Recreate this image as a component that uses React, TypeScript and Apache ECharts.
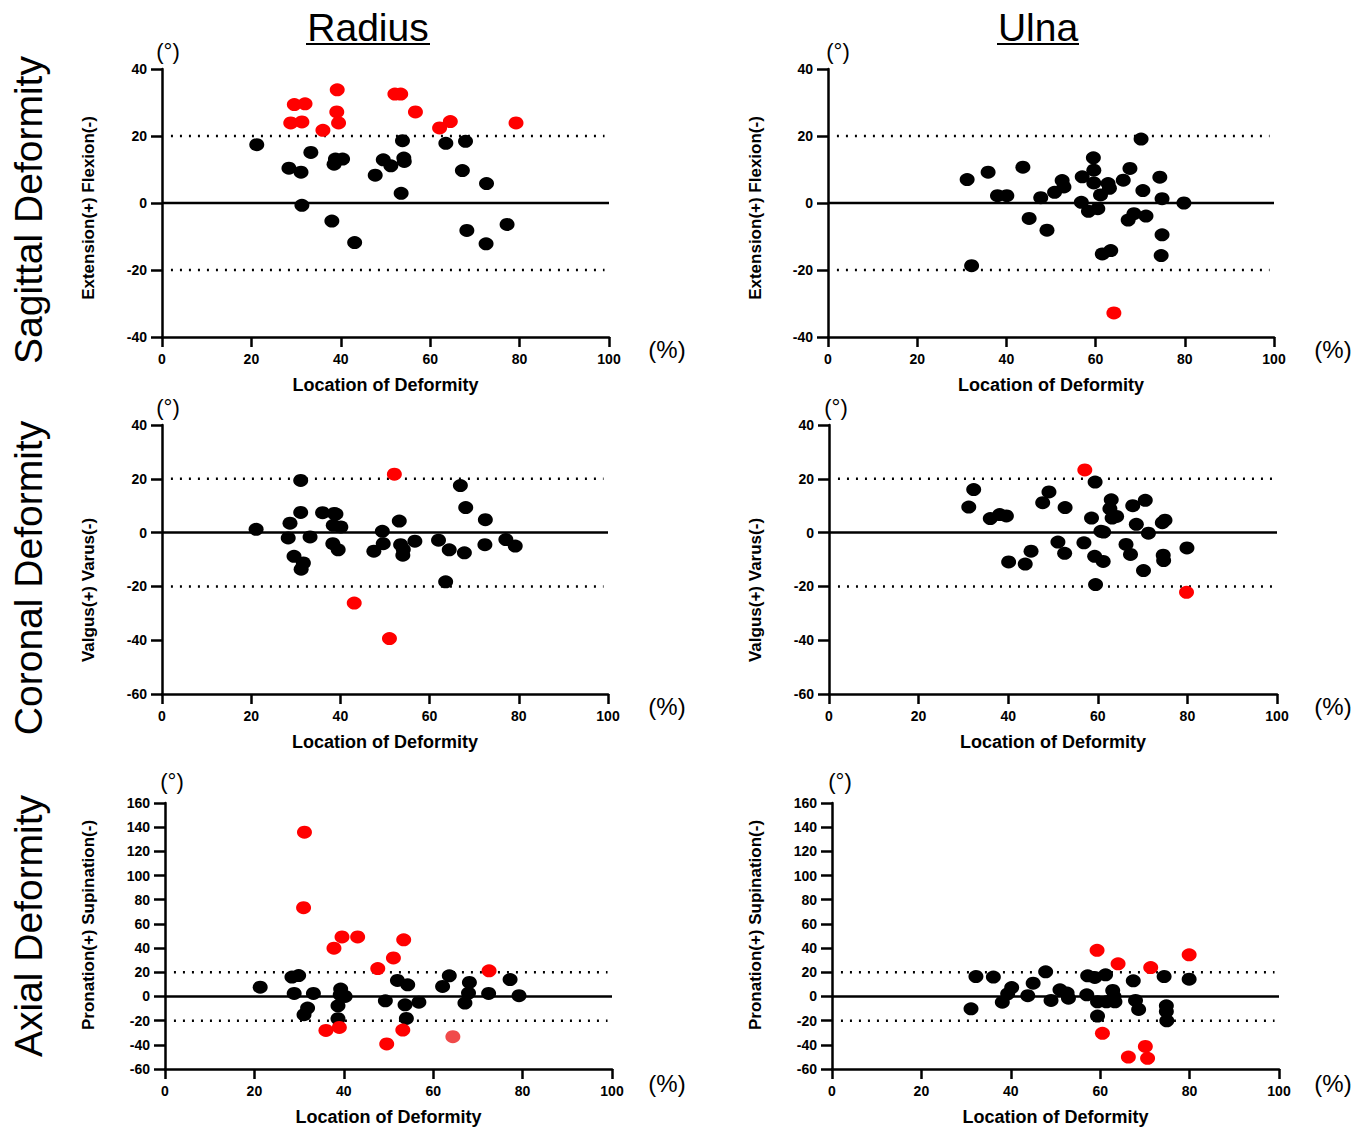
import React, { useEffect, useRef } from "react";
import * as echarts from "echarts";

// ---------- data ----------
const xTicks = [0, 20, 40, 60, 80, 100];
const refLimits = [20, -20];

const radiusSagittalBlack = [[21.2,17.4],[28.4,10.4],[31.1,9.2],[33.3,15.1],[31.3,-0.7],[38.0,-5.4],[43.1,-11.8],[38.5,11.6],[38.8,13.1],[40.4,13.1],[47.7,8.3],[49.5,12.9],[51.2,11.1],[53.8,18.6],[54.1,13.4],[54.2,12.4],[53.5,2.9],[63.5,17.8],[67.9,18.4],[67.2,9.7],[72.6,5.8],[68.2,-8.2],[72.5,-12.2],[77.2,-6.4]];
const radiusSagittalRed = [[29.6,29.4],[32.0,29.6],[28.8,23.9],[31.3,24.2],[39.2,33.8],[39.1,27.2],[39.5,23.9],[36.0,21.7],[52.1,32.5],[53.4,32.5],[56.7,27.2],[62.1,22.4],[64.5,24.3],[79.2,23.9]];

const ulnaSagittalBlack = [[31.2,7.0],[35.9,9.2],[38.0,2.2],[40.1,2.2],[43.7,10.7],[45.1,-4.6],[47.7,1.6],[49.1,-8.1],[50.8,3.2],[52.5,6.7],[52.9,4.8],[57.0,7.8],[56.8,0.2],[59.5,13.5],[59.6,9.8],[59.6,6.0],[58.4,-2.5],[60.5,-1.7],[61.1,2.4],[62.8,5.8],[63.1,4.4],[61.5,-15.2],[63.4,-14.2],[66.2,6.8],[67.7,10.3],[67.3,-5.1],[68.6,-3.2],[70.2,19.1],[70.6,3.7],[71.3,-3.9],[74.4,7.7],[74.9,1.3],[74.9,-9.5],[74.7,-15.7],[79.8,0],[32.2,-18.7]];
const ulnaSagittalRed = [[64.1,-32.8]];

const radiusCoronalBlack = [[21.1,1.2],[31.1,19.4],[31.1,7.5],[28.7,3.5],[28.3,-2.0],[33.2,-1.6],[29.6,-8.8],[31.7,-11.3],[31.2,-13.6],[36.0,7.4],[38.6,7.1],[39.0,6.9],[38.4,2.7],[40.1,2.1],[38.3,-4.1],[39.5,-6.4],[47.5,-6.9],[49.4,0.5],[49.6,-4.1],[53.2,4.3],[53.5,-4.5],[54.1,-6.3],[54.0,-8.4],[56.7,-3.2],[62.0,-2.8],[64.4,-6.4],[63.6,-18.3],[66.9,17.5],[68.1,9.3],[67.8,-7.5],[72.5,4.8],[72.4,-4.5],[77.1,-2.6],[79.2,-5.0]];
const radiusCoronalRed = [[52.1,21.7],[43.1,-26.2],[51.0,-39.4]];

const ulnaCoronalBlack = [[31.2,9.5],[32.3,16.0],[36.0,5.2],[38.1,6.7],[39.6,6.2],[40.1,-10.9],[43.8,-11.7],[45.1,-6.9],[47.7,11.1],[49.1,15.1],[51.1,-3.5],[52.7,9.3],[52.6,-7.7],[56.9,-3.8],[58.6,5.4],[59.4,18.8],[59.3,-8.8],[61.2,-10.7],[59.5,-19.3],[60.7,0.5],[61.3,0.2],[63.0,12.2],[62.7,8.9],[63.2,5.4],[64.2,6.0],[66.3,-4.4],[67.3,-8.1],[67.8,10.0],[68.6,3.1],[70.6,12.0],[71.3,-0.2],[70.2,-14.1],[74.4,3.7],[75.0,4.6],[74.6,-8.4],[74.7,-10.4],[79.9,-5.7]];
const ulnaCoronalRed = [[57.1,23.3],[79.8,-22.2]];

const radiusAxialBlack = [[21.3,7.7],[28.4,16.0],[29.9,17.3],[28.9,2.5],[33.2,2.5],[31.9,-9.6],[31.1,-15.1],[39.3,6.1],[40.3,0],[39.2,1.4],[38.7,-7.7],[38.7,-18.4],[49.3,-3.6],[52.0,13.2],[54.3,9.6],[53.7,-6.9],[54.0,-18.2],[56.8,-4.7],[62.1,8.3],[63.6,17.1],[68.1,11.6],[67.9,2.8],[67.1,-5.5],[72.4,2.5],[77.2,14.0],[79.2,0.6]];
const radiusAxialRed = [[31.2,135.9],[31.0,73.4],[37.8,39.9],[39.6,49.2],[43.1,49.2],[47.6,23.1],[51.1,31.9],[53.4,46.8],[72.5,21.2],[36.0,-28.1],[39.0,-25.6],[49.6,-39.3],[53.2,-27.8]];
const radiusAxialPaleRed = [[64.4,-33.3]];

const ulnaAxialBlack = [[31.1,-10.2],[32.2,16.5],[36.1,16.0],[38.1,-4.7],[39.3,2.2],[40.2,7.4],[43.8,0.6],[45.0,11.0],[47.8,20.4],[49.0,-3.3],[51.0,5.5],[52.6,2.8],[52.9,-1.4],[57.0,1.4],[57.2,17.1],[58.8,15.7],[61.2,17.9],[59.4,-4.4],[61.4,-4.4],[63.3,-4.4],[62.8,5.0],[63.1,0],[59.4,-16.2],[67.4,12.9],[67.9,-3.3],[68.6,-10.7],[74.3,16.5],[74.8,-7.7],[74.8,-12.4],[74.9,-20.1],[79.9,14.3]];
const ulnaAxialRed = [[59.3,38.2],[64.0,27.0],[71.3,23.9],[79.9,34.4],[60.5,-30.5],[66.3,-50.1],[70.1,-41.3],[70.6,-51.2]];

const columnTitles = ["Radius", "Ulna"];
const rowTitles = ["Sagittal Deformity", "Coronal Deformity", "Axial Deformity"];
const yTitles = ["Extension(+) Flexion(-)", "Valgus(+) Varus(-)", "Pronation(+) Supination(-)"];
const xTitle = "Location of Deformity";
const yRanges = [[-40, 40], [-60, 40], [-60, 160]];

// ---------- layout ----------
const FONT = "'Liberation Sans', Arial, sans-serif";
const grids = [
  { left: 162, top: 69, width: 447, height: 268 },
  { left: 828, top: 69, width: 446, height: 268 },
  { left: 162, top: 425, width: 446, height: 269 },
  { left: 829, top: 425, width: 448, height: 269 },
  { left: 165, top: 803, width: 447, height: 266 },
  { left: 832, top: 803, width: 447, height: 266 },
];
const panelData = [
  { black: radiusSagittalBlack, red: radiusSagittalRed, pale: [] as number[][] },
  { black: ulnaSagittalBlack, red: ulnaSagittalRed, pale: [] as number[][] },
  { black: radiusCoronalBlack, red: radiusCoronalRed, pale: [] as number[][] },
  { black: ulnaCoronalBlack, red: ulnaCoronalRed, pale: [] as number[][] },
  { black: radiusAxialBlack, red: radiusAxialRed, pale: radiusAxialPaleRed },
  { black: ulnaAxialBlack, red: ulnaAxialRed, pale: [] as number[][] },
];

function txt(text: string, x: number, y: number, font: string, rotation = 0, extra: any = {}) {
  return {
    type: "text",
    x,
    y,
    rotation,
    z: 10,
    style: {
      text,
      font,
      fill: "#000",
      align: "center",
      verticalAlign: "middle",
      textAlign: "center",
      textVerticalAlign: "middle",
      ...extra,
    },
  };
}

export default function App() {
  const ref = useRef<HTMLDivElement>(null);
  useEffect(() => {
    document.body.style.margin = "0";
    if (!ref.current) return;
    const chart = echarts.init(ref.current, undefined, { renderer: "svg" });

    const xAxis: any[] = [];
    const yAxis: any[] = [];
    const series: any[] = [];
    const markerSize = [15, 13];
    grids.forEach((g, i) => {
      const row = Math.floor(i / 2);
      const [yMin, yMax] = yRanges[row];
      xAxis.push({
        type: "value",
        gridIndex: i,
        min: xTicks[0],
        max: xTicks[xTicks.length - 1],
        interval: 20,
        axisLine: { show: true, onZero: false, lineStyle: { color: "#000", width: 2.5 } },
        axisTick: { show: true, inside: false, length: 10, lineStyle: { color: "#000", width: 2.5 } },
        axisLabel: { color: "#000", fontFamily: FONT, fontWeight: "bold", fontSize: 14, margin: 15 },
        splitLine: { show: false },
        name: xTitle,
        nameLocation: "middle",
        nameGap: 39,
        nameTextStyle: { color: "#000", fontFamily: FONT, fontWeight: "bold", fontSize: 18 },
      });
      yAxis.push({
        type: "value",
        gridIndex: i,
        min: yMin,
        max: yMax,
        interval: 20,
        axisLine: { show: true, onZero: false, lineStyle: { color: "#000", width: 2.5 } },
        axisTick: { show: true, inside: false, length: 11, lineStyle: { color: "#000", width: 2.5 } },
        axisLabel: { color: "#000", fontFamily: FONT, fontWeight: "bold", fontSize: 14, margin: 15 },
        splitLine: { show: false },
      });
      series.push({
        type: "line",
        xAxisIndex: i,
        yAxisIndex: i,
        data: [[xTicks[0], 0], [xTicks[xTicks.length - 1], 0]],
        symbol: "none",
        silent: true,
        z: 1,
        lineStyle: { color: "#000", width: 2.5 },
      });
      refLimits.forEach((lv) => {
        series.push({
          type: "line",
          xAxisIndex: i,
          yAxisIndex: i,
          data: [[2, lv], [99, lv]],
          symbol: "none",
          silent: true,
          z: 1,
          lineStyle: { color: "#000", width: 2.5, type: [2, 7] },
        });
      });
      const pd = panelData[i];
      const sets: [number[][], string][] = [
        [pd.black, "#000000"],
        [pd.red, "#ff0000"],
        [pd.pale, "#f04a4a"],
      ];
      sets.forEach(([d, color], k) => {
        if (!d.length) return;
        series.push({
          type: "scatter",
          xAxisIndex: i,
          yAxisIndex: i,
          data: d,
          symbol: "circle",
          symbolSize: markerSize,
          itemStyle: { color, opacity: 1 },
          z: 3 + k,
        });
      });
    });

    const graphic: any[] = [];
    const colCenters = [368, 1038];
    const colWidths = [124, 82];
    columnTitles.forEach((t, c) => {
      graphic.push(txt(t, colCenters[c], 27, `39px ${FONT}`));
      graphic.push({
        type: "line",
        shape: { x1: colCenters[c] - colWidths[c] / 2, y1: 44, x2: colCenters[c] + colWidths[c] / 2, y2: 44 },
        style: { stroke: "#000", lineWidth: 2 },
      });
    });
    const rowCenters = [210, 578, 926];
    rowTitles.forEach((t, r) => {
      graphic.push(txt(t, 28, rowCenters[r], `39px ${FONT}`, Math.PI / 2));
    });
    const yTitleCenters = [208, 590, 925];
    const yTitleX = [88, 755];
    yTitles.forEach((t, r) => {
      yTitleX.forEach((x) => {
        graphic.push(txt(t, x, yTitleCenters[r], `bold 17px ${FONT}`, Math.PI / 2));
      });
    });
    const degPos = [[168, 51], [838, 51], [168, 407], [836, 407], [172, 781], [840, 781]];
    degPos.forEach(([x, y]) => graphic.push(txt("(°)", x, y, `22px ${FONT}`)));
    const pctPos = [[667, 349], [1333, 349], [667, 706], [1333, 706], [667, 1083], [1333, 1083]];
    pctPos.forEach(([x, y]) => graphic.push(txt("(%)", x, y, `24px ${FONT}`)));

    chart.setOption({
      animation: false,
      backgroundColor: "#fff",
      grid: grids.map((g) => ({ ...g, containLabel: false })),
      xAxis,
      yAxis,
      series,
      graphic,
    });
    return () => chart.dispose();
  }, []);
  return <div ref={ref} style={{ width: 1368, height: 1130 }} />;
}
